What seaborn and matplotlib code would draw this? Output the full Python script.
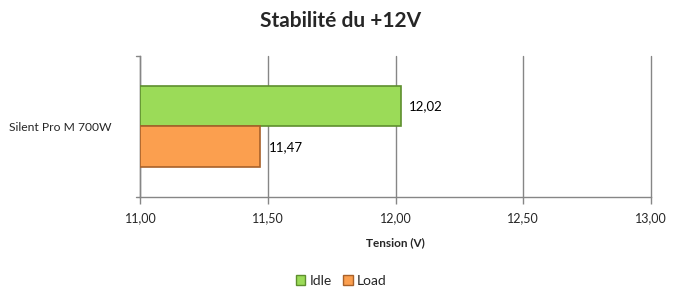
import matplotlib
matplotlib.use("Agg")
import matplotlib.pyplot as plt
import seaborn as sns
import pandas as pd
from matplotlib.patches import Patch

categories = ["Silent Pro M 700W"]
series = ["Idle", "Load"]
idle_values = [12.02]
load_values = [11.47]
x_ticks = [11.0, 11.5, 12.0, 12.5, 13.0]
title = "Stabilité du +12V"
x_label = "Tension (V)"

colors = {"Idle": "#9BDB58", "Load": "#FB9F4F"}
edges = {"Idle": "#5E8F2E", "Load": "#A8612A"}

rows = []
for c, v in zip(categories, idle_values):
    rows.append({"cat": c, "serie": "Idle", "val": v})
for c, v in zip(categories, load_values):
    rows.append({"cat": c, "serie": "Load", "val": v})
df = pd.DataFrame(rows)

sns.set_theme(style="white")
plt.rcParams["font.family"] = ["Lato", "DejaVu Sans"]

fig = plt.figure(figsize=(6.82, 3.04), dpi=100)
ax = fig.add_axes([0.206, 0.352, 0.748, 0.464])

sns.barplot(data=df, y="cat", x="val", hue="serie", orient="h",
            palette=colors, saturation=1, width=0.58, ax=ax, legend=False, zorder=3)

for cont, s in zip(ax.containers, series):
    for bar in cont:
        w = bar.get_width()
        bar.set_x(x_ticks[0])
        bar.set_width(w - x_ticks[0])
        bar.set_facecolor(colors[s])
        bar.set_edgecolor(edges[s])
        bar.set_linewidth(1.2)
    vals = [b.get_x() + b.get_width() for b in cont]
    ax.bar_label(cont, labels=[f"{v:.2f}".replace(".", ",") for v in vals],
                 padding=6, fontsize=9.5, color="#000000")

ax.set_xlim(x_ticks[0], x_ticks[-1])
ax.set_ylim(0.5, -0.5)
ax.set_xticks(x_ticks)
ax.set_xticklabels([f"{t:.2f}".replace(".", ",") for t in x_ticks], fontsize=9)
ax.set_yticks([0])
ax.set_yticklabels(categories, fontsize=8.7)
ax.tick_params(axis="y", length=0, pad=21)
ax.tick_params(axis="x", length=5, color="#868686", width=1, direction="out", pad=6, bottom=True)

ax.grid(axis="x", color="#868686", linewidth=1, zorder=0)
for gl in ax.get_xgridlines():
    gl.set_clip_on(False)
ax.set_axisbelow(True)
for side in ["top", "right"]:
    ax.spines[side].set_visible(False)
for side in ["left", "bottom"]:
    ax.spines[side].set_color("#868686")
    ax.spines[side].set_linewidth(1)
ax.plot([-0.008, 0], [1, 1], transform=ax.transAxes, color="#868686", lw=1, clip_on=False)
ax.plot([-0.008, 0], [0, 0], transform=ax.transAxes, color="#868686", lw=1, clip_on=False)

ax.set_ylabel("")
ax.set_xlabel(x_label, fontsize=8.5, fontweight="bold", labelpad=9)

fig.suptitle(title, x=0.5, y=0.965, fontsize=15, fontweight="bold")

handles = [Patch(facecolor=colors[s], edgecolor=edges[s], label=s) for s in series]
fig.legend(handles=handles, loc="center", bbox_to_anchor=(0.5, 0.075), ncol=2,
           frameon=False, fontsize=10, handlelength=0.7, handleheight=0.7,
           handletextpad=0.3, columnspacing=0.8)

fig.savefig("out.png", dpi=100)
